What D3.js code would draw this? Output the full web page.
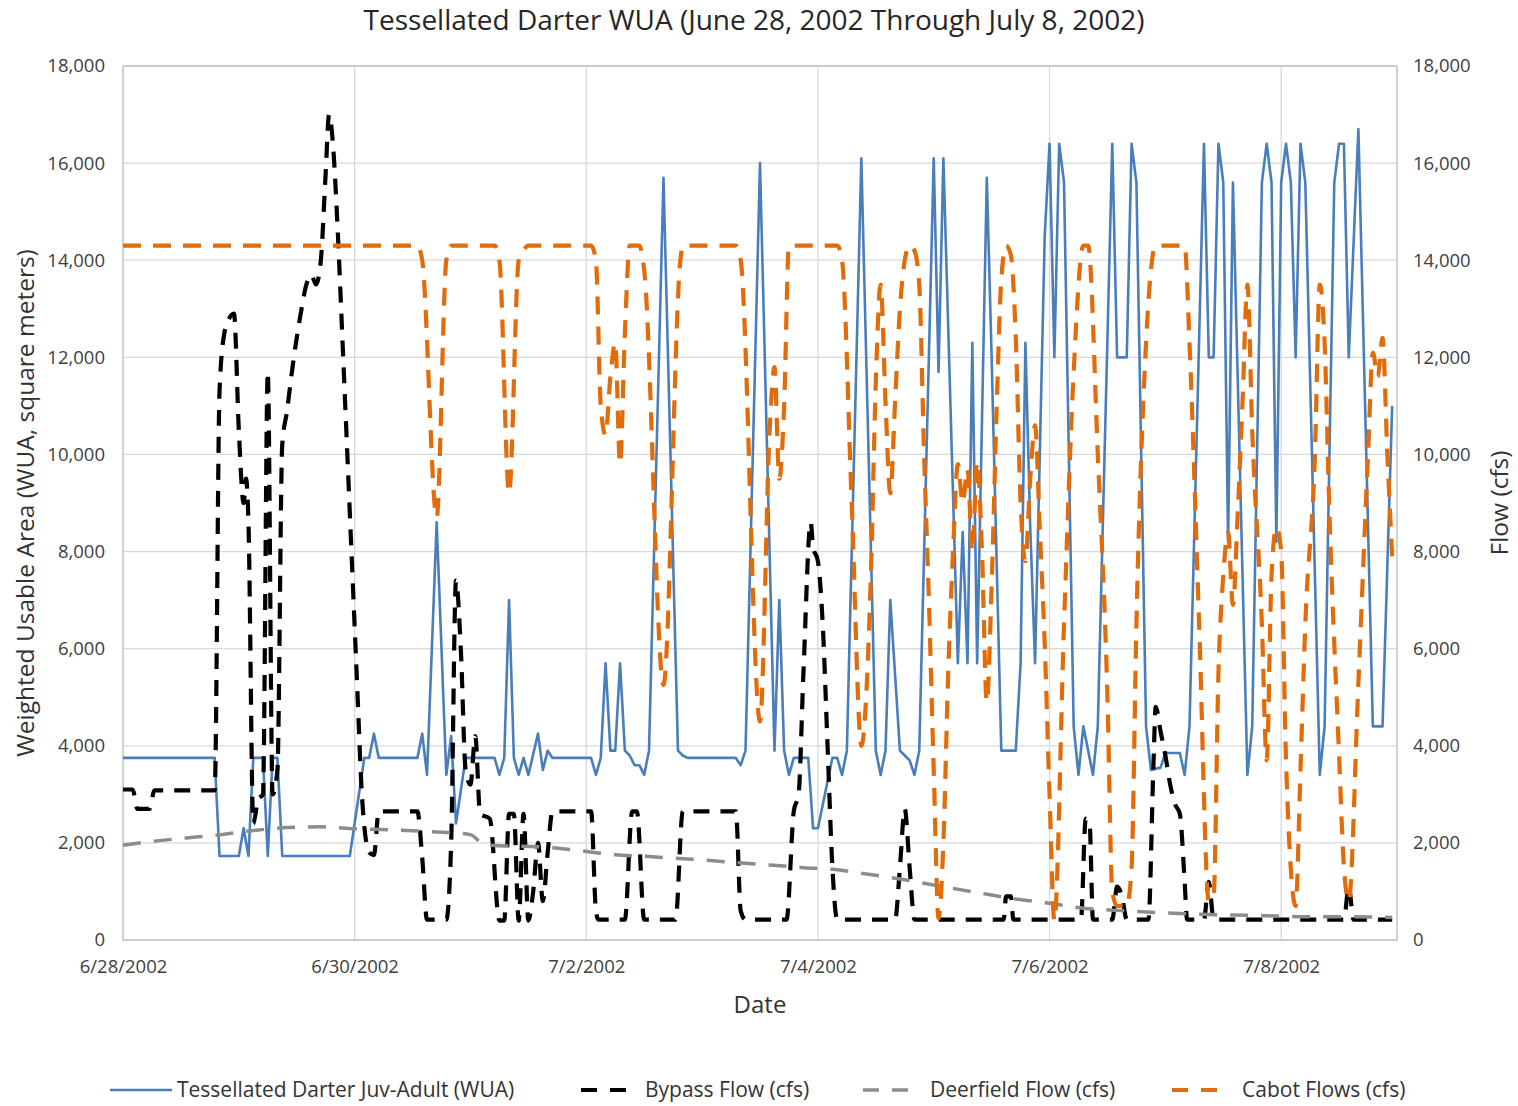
<!DOCTYPE html>
<html>
<head>
<meta charset="utf-8">
<script src="https://cdn.jsdelivr.net/npm/d3@7"></script>
<style>
    body { margin: 0; background: #fff; }
    text { font-family: "Open Sans", "Noto Sans", sans-serif; }
</style>
</head>
<body>
<div id="chart"></div>
<script>
// every series is [hours since 6/28/2002 00:00, value]
const wuaData = [
    [0,3750],[19,3750],[20,1730],[24,1730],[25,2300],[26,1730],[27,3750],[29,3750],[30,1730],[31,3750],
    [32,3750],[33,1730],[47,1730],[50,3750],[51,3750],[52,4250],[53,3750],[61,3750],[62,4250],[63,3400],
    [65,8600],[67,3400],[68,4200],[69,2400],[71,3750],[77,3750],[78,3400],[79,3750],[80,7000],[81,3750],
    [82,3400],[83,3750],[84,3400],[86,4250],[87,3500],[88,3900],[89,3750],[97,3750],[98,3400],[99,3750],
    [100,5700],[101,3900],[102,3900],[103,5700],[104,3900],[105,3800],[106,3600],[107,3600],[108,3400],[109,3900],
    [112,15700],[115,3900],[116,3800],[117,3750],[127,3750],[128,3600],[129,3900],[132,16000],[135,3900],[136,7000],
    [137,3900],[138,3400],[139,3750],[142,3750],[143,2300],[144,2300],[147,3750],[148,3750],[149,3400],[150,3900],
    [153,16100],[156,3900],[157,3400],[158,3900],[159,7000],[161,3900],[162,3800],[163,3700],[164,3400],[165,3900],
    [168,16100],[169,11700],[170,16100],[173,5700],[174,8400],[175,5700],[176,12300],[177,5700],[179,15700],[180,12000],
    [182,3900],[185,3900],[186,5700],[187,12300],[188,8500],[189,5700],[191,14500],[192,16400],[193,12000],[194,16400],
    [195,15600],[197,4400],[198,3400],[199,4400],[201,3400],[202,4400],[205,16400],[206,12000],[208,12000],[209,16400],
    [210,15600],[212,4400],[213,3500],[215,3550],[216,3850],[219,3850],[220,3400],[221,4400],[224,16400],[225,12000],
    [226,12000],[227,16400],[228,15600],[229,8200],[230,15600],[233,3400],[234,4400],[236,15600],[237,16400],[238,15600],
    [239,8200],[240,15600],[241,16400],[242,15600],[243,12000],[244,16400],[245,15600],[248,3400],[249,4400],[251,15600],
    [252,16400],[253,16400],[254,12000],[256,16700],[259,4400],[261,4400],[263,11000]
];

const bypassData = [
    [0,3100],[2,3100],[3,2700],[5.5,2700],[6.5,3080],[19,3080],[20,11300],[21,12500],[22,12800],[23,12900],
    [24,10500],[25,9000],[25.5,9500],[26,8600],[27,2400],[28,2900],[29,3000],[30,11700],[31,3000],[32,3500],
    [33,10200],[34,10900],[35,11700],[36,12400],[37,13000],[38,13500],[39,13700],[40,13500],[41,14000],[42,15800],
    [42.7,17000],[43.5,16400],[44.5,14600],[45.5,12300],[47,8800],[48.5,5300],[49.5,3000],[51,1800],[52,1750],[53,2650],
    [61,2650],[62,1700],[63,420],[67,420],[68,2000],[69,7400],[70,6000],[71,3500],[72,3200],[73,4200],
    [74,2600],[76,2500],[78,400],[79,400],[80,2600],[81,2600],[82,400],[83,2600],[84,400],[85,1000],
    [86,2000],[87,800],[88,1800],[89,2650],[97,2650],[98,600],[98.5,420],[104,420],[105.5,2650],[106.5,2650],
    [108,420],[114.5,420],[116,2650],[127,2650],[128,600],[129,420],[137.5,420],[139,2650],[140,3000],[141,5500],
    [142.5,8600],[143,8100],[144,7800],[145,6500],[146,4000],[147,1500],[148,420],[160,420],[161,1500],[162,2700],
    [163,1500],[164,420],[182.5,420],[183,900],[184,900],[184.5,420],[198.5,420],[199.5,2500],[200.3,2400],[201,420],
    [205,420],[206,1100],[207,900],[208,420],[212.5,420],[213.5,3500],[214,4800],[215,4300],[216,3800],[217,3200],
    [218,2800],[219,2600],[220,1200],[220.5,420],[224,420],[225,1200],[226,420],[253,420],[254,1100],[255,420],
    [263,420]
];

const deerfieldData = [
    [0,1950],[6,2030],[13,2100],[20,2165],[27,2255],[34,2315],[41,2330],[48,2290],[55,2270],[62,2240],
    [68,2210],[72,2170],[75,1960],[88,1910],[95,1835],[102,1755],[109,1720],[114,1685],[120,1650],[127,1595],
    [134,1545],[141,1490],[147,1455],[153,1375],[162,1240],[169,1115],[178,960],[184,860],[192,755],[199,655],
    [207,605],[214,565],[222,535],[229,515],[237,500],[244,480],[252,480],[263,465]
];

const cabotData = [
    [0,14300],[61,14300],[62,14000],[65,8700],[67,14000],[68,14300],[77,14300],[78,14000],[80,9200],[82,14000],
    [83,14200],[84,14300],[97,14300],[98,14000],[99,11000],[100,10400],[101,11600],[102,12300],[103,9800],[104,12500],
    [105,14300],[107,14300],[108,13800],[112,5250],[115.5,14000],[116,14300],[127,14300],[128,14000],[132,4500],[134,10500],
    [135,11800],[136,9500],[137,11000],[138,14300],[148,14300],[149,14000],[151,9000],[153,4000],[155,7600],[156,11500],
    [157,13500],[158,11100],[159,9200],[160,11100],[161,13000],[162,14000],[163,14300],[164,14200],[165,13500],[166,10000],
    [167,7000],[168,3500],[169,450],[170,2000],[171,5500],[172,8000],[173,9800],[174,9000],[175,9700],[176,8000],
    [177,9850],[178,8000],[179,4900],[180,7300],[181,10800],[182,13600],[183,14300],[184,14100],[185,12400],[186,9000],
    [187,7800],[188,9500],[189,10600],[190,8400],[191,6100],[192,3000],[193,400],[195,6500],[197,11700],[199,14300],
    [200,14300],[202,10000],[204,5000],[205,1000],[206,700],[208,700],[209,1500],[210,6500],[212,12300],[214,14300],
    [220,14300],[221,12300],[223,6500],[225,800],[226,900],[227,5500],[228,7500],[229,8400],[230,6900],[231,8800],
    [232,11100],[233,13500],[234,10500],[236,6500],[237,3700],[238,7500],[239,8500],[240,8000],[241,3700],[243,700],
    [244,3500],[245,6500],[247,10000],[248,13500],[249,12300],[250,8800],[252,3800],[253,1500],[254,800],[256,5300],
    [258,10000],[259,12100],[260,11600],[261,12400],[262,10000],[263,7900]
];

const xTickLabels = ['6/28/2002', '6/30/2002', '7/2/2002', '7/4/2002', '7/6/2002', '7/8/2002'];
const yTickValues = [0, 2000, 4000, 6000, 8000, 10000, 12000, 14000, 16000, 18000];

// set margin
const margin = {top: 66, right: 121, bottom: 166, left: 123};
const totalWidth = 1518, totalHeight = 1106;
const width = totalWidth - margin.left - margin.right,
    height = totalHeight - margin.top - margin.bottom;

const start = Date.UTC(2002, 5, 28);
const hour = 3600 * 1000;
const toDate = h => new Date(start + h * hour);

const svg = d3.select('#chart').append('svg')
    .attr('width', totalWidth)
    .attr('height', totalHeight);

const g = svg.append('g')
    .attr('transform', 'translate(' + margin.left + ',' + margin.top + ')');

const x = d3.scaleUtc().domain([toDate(0), toDate(264)]).range([0, width]);
const y = d3.scaleLinear().domain([0, 18000]).range([height, 0]);
const xTickDates = xTickLabels.map((d, i) => toDate(i * 48));

// gridlines
g.append('g')
    .selectAll('line.h')
    .data(yTickValues)
    .enter().append('line')
    .attr('x1', 0).attr('x2', width)
    .attr('y1', d => y(d)).attr('y2', d => y(d))
    .style('stroke', '#d9d9d9')
    .style('stroke-width', 1.3);

g.append('g')
    .selectAll('line.v')
    .data(xTickDates.slice(1))
    .enter().append('line')
    .attr('x1', d => x(d)).attr('x2', d => x(d))
    .attr('y1', 0).attr('y2', height)
    .style('stroke', '#d9d9d9')
    .style('stroke-width', 1.3);

// plot frame
g.append('rect')
    .attr('width', width)
    .attr('height', height)
    .style('fill', 'none')
    .style('stroke', '#c4c4c4')
    .style('stroke-width', 1.5);

// x axis
const xAxis = g.append('g')
    .attr('transform', 'translate(0,' + height + ')')
    .call(d3.axisBottom(x).tickValues(xTickDates).tickFormat((d, i) => xTickLabels[i]).tickSize(0).tickPadding(20));
xAxis.select('.domain').remove();
xAxis.selectAll('text')
    .style('font-size', '18.5px')
    .style('fill', '#404040')
    .style('font-family', '"Open Sans", sans-serif');

// left and right y axes
const yLeft = g.append('g')
    .call(d3.axisLeft(y).tickValues(yTickValues).tickFormat(d3.format(',')).tickSize(0).tickPadding(18));
const yRight = g.append('g')
    .attr('transform', 'translate(' + width + ',0)')
    .call(d3.axisRight(y).tickValues(yTickValues).tickFormat(d3.format(',')).tickSize(0).tickPadding(16));
[yLeft, yRight].forEach(a => {
    a.select('.domain').remove();
    a.selectAll('text')
        .style('font-size', '18.5px')
        .style('fill', '#404040')
        .style('font-family', '"Open Sans", sans-serif');
});

// series lines
const line = d3.line().x(d => x(toDate(d[0]))).y(d => y(d[1]));
const smooth = d3.line().x(d => x(toDate(d[0]))).y(d => y(d[1])).curve(d3.curveMonotoneX);

const series = [
    {data: wuaData, gen: line, color: '#4a7ebb', width: 2.6, dash: null},
    {data: bypassData, gen: smooth, color: '#000000', width: 4.2, dash: '16,11'},
    {data: deerfieldData, gen: smooth, color: '#8c8c8c', width: 3.5, dash: '18,13'},
    {data: cabotData, gen: smooth, color: '#e36c0a', width: 4.2, dash: '18,12'}
];

series.forEach(s => {
    g.append('path')
        .datum(s.data)
        .attr('d', s.gen)
        .style('fill', 'none')
        .style('stroke', s.color)
        .style('stroke-width', s.width)
        .style('stroke-dasharray', s.dash)
        .style('stroke-linejoin', 'round');
});

// titles
svg.append('text')
    .attr('x', 754)
    .attr('y', 30)
    .attr('text-anchor', 'middle')
    .style('font-size', '28px')
    .style('fill', '#262626')
    .text('Tessellated Darter WUA (June 28, 2002 Through July 8, 2002)');

svg.append('text')
    .attr('x', 760)
    .attr('y', 1013)
    .attr('text-anchor', 'middle')
    .style('font-size', '24px')
    .style('fill', '#333')
    .text('Date');

svg.append('text')
    .attr('transform', 'translate(34,503) rotate(-90)')
    .attr('text-anchor', 'middle')
    .style('font-size', '24.5px')
    .style('fill', '#333')
    .text('Weighted Usable Area (WUA, square meters)');

svg.append('text')
    .attr('transform', 'translate(1508,503) rotate(-90)')
    .attr('text-anchor', 'middle')
    .style('font-size', '24.5px')
    .style('fill', '#333')
    .text('Flow (cfs)');

// legend
const legendItems = [
    {label: 'Tessellated Darter Juv-Adult (WUA)', x1: 110, x2: 172, tx: 177, color: '#4a7ebb', width: 2.6, dash: null},
    {label: 'Bypass Flow (cfs)', x1: 581, x2: 626, tx: 645, color: '#000000', width: 4.2, dash: '16,13'},
    {label: 'Deerfield Flow (cfs)', x1: 863, x2: 909, tx: 930, color: '#8c8c8c', width: 3.5, dash: '16,13'},
    {label: 'Cabot Flows (cfs)', x1: 1172, x2: 1218, tx: 1242, color: '#e36c0a', width: 4.2, dash: '16,13'}
];

const legend = svg.append('g');
legendItems.forEach(item => {
    legend.append('line')
        .attr('x1', item.x1).attr('x2', item.x2)
        .attr('y1', 1090).attr('y2', 1090)
        .style('stroke', item.color)
        .style('stroke-width', item.width)
        .style('stroke-dasharray', item.dash);
    legend.append('text')
        .attr('x', item.tx)
        .attr('y', 1097)
        .style('font-size', '21px')
        .style('fill', '#333')
        .text(item.label);
});
</script>
</body>
</html>
